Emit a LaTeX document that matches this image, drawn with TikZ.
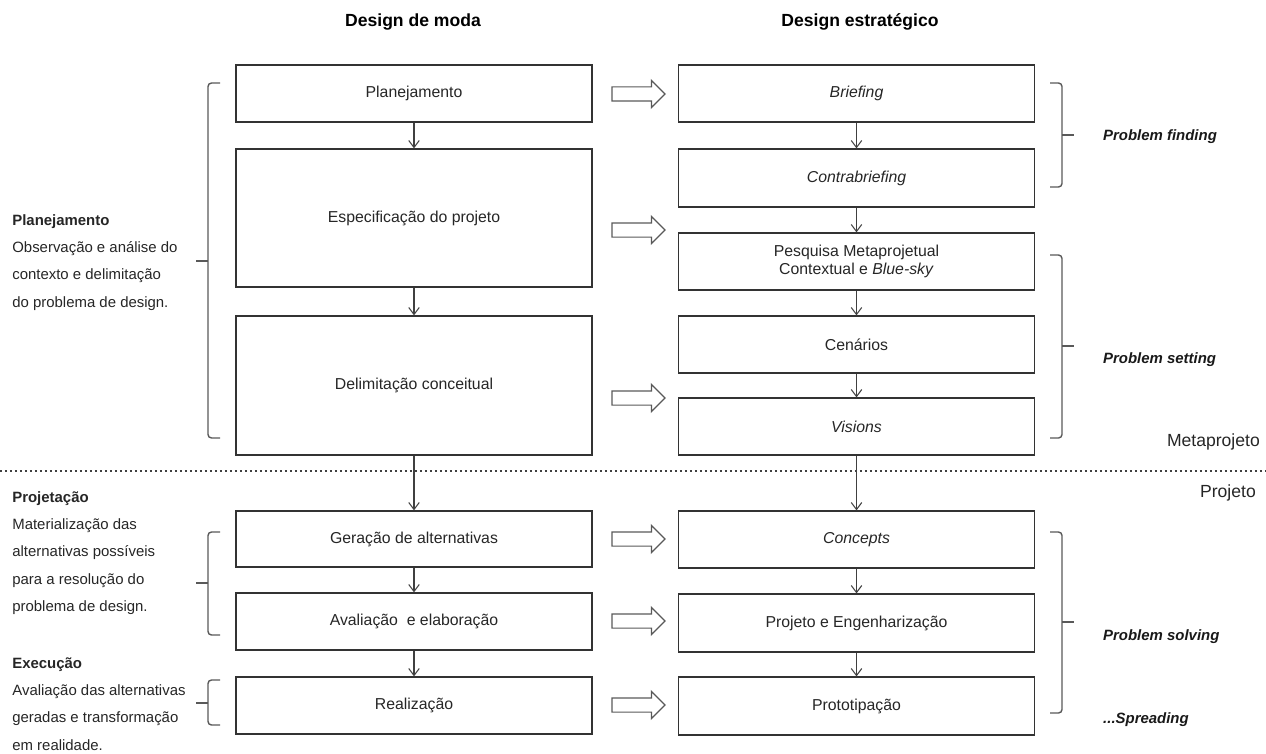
\documentclass[tikz,border=0pt]{standalone}
\usepackage{fontspec}
\setmainfont{Liberation Sans}
\usetikzlibrary{arrows.meta,shapes.arrows}

\tikzset{
    caixa/.style={draw=black!80, line width=0.7pt, minimum width=7.12cm, minimum height=1.14cm,
        inner sep=0pt, align=center, text=black!85, font=\fontsize{9}{10.5}\selectfont},
    seta/.style={draw=black!75, line width=0.6pt, -{Straight Barb[length=4pt,width=6pt]}},
    setaoca/.style={single arrow, draw=black!65, line width=0.7pt, minimum height=1.06cm,
        inner xsep=0pt, inner ysep=0.13cm, single arrow head extend=0.13cm},
    chave/.style={draw=black!65, line width=0.8pt, rounded corners=0.07cm},
    descricao/.style={anchor=north west, inner sep=0pt, align=left, text=black!85,
        font=\fontsize{8.5}{15.6}\selectfont},
    rotulo/.style={anchor=west, text=black!90, font=\fontsize{8.5}{10}\selectfont\bfseries\itshape},
    etapa/.style={text=black!85, font=\fontsize{10}{12}\selectfont},
}

\begin{document}
\begin{tikzpicture}[x=0.02cm, y=-0.02cm]
    \useasboundingbox (0,0) rectangle (1266,753);

    \node[font=\fontsize{10}{12}\selectfont\bfseries] (tmoda) at (413,22) {Design de moda};
    \node[font=\fontsize{10}{12}\selectfont\bfseries] (testr) at (860,22) {Design estratégico};

    \node[caixa] (plan) at (414,93.5) {Planejamento};
    \node[caixa, minimum height=2.76cm] (espec) at (414,218) {Especificação do projeto};
    \node[caixa, minimum height=2.78cm] (delim) at (414,385.5) {Delimitação conceitual};
    \node[caixa, minimum height=1.12cm] (gera) at (414,539) {Geração de alternativas};
    \node[caixa] (aval) at (414,621.5) {Avaliação\ \ e elaboração};
    \node[caixa] (real) at (414,705.5) {Realização};

    \node[caixa] (brief) at (856.5,93.5) {\itshape Briefing};
    \node[caixa, minimum height=1.16cm] (contra) at (856.5,178) {\itshape Contrabriefing};
    \node[caixa] (pesq) at (856.5,261.5) {Pesquisa Metaprojetual\\Contextual e \textit{Blue-sky}};
    \node[caixa] (cen) at (856.5,344.5) {Cenários};
    \node[caixa] (vis) at (856.5,426.5) {\itshape Visions};
    \node[caixa] (conc) at (856.5,539.5) {\itshape Concepts};
    \node[caixa, minimum height=1.16cm] (proj) at (856.5,623) {Projeto e Engenharização};
    \node[caixa, minimum height=1.16cm] (prot) at (856.5,706) {Prototipação};

    \draw[seta] (plan) -- (espec);
    \draw[seta] (espec) -- (delim);
    \draw[seta] (delim) -- (gera);
    \draw[seta] (gera) -- (aval);
    \draw[seta] (aval) -- (real);
    \draw[seta] (brief) -- (contra);
    \draw[seta] (contra) -- (pesq);
    \draw[seta] (pesq) -- (cen);
    \draw[seta] (cen) -- (vis);
    \draw[seta] (vis) -- (conc);
    \draw[seta] (conc) -- (proj);
    \draw[seta] (proj) -- (prot);

    \node[setaoca] (s1) at (635,94) {};
    \node[setaoca] (s2) at (635,230) {};
    \node[setaoca] (s3) at (635,398) {};
    \node[setaoca] (s4) at (635,539) {};
    \node[setaoca] (s5) at (635,621) {};
    \node[setaoca] (s6) at (635,705) {};

    \draw[black!75, line width=1.4pt, dash pattern=on 0.05cm off 0.05cm] (0,471) -- (1266,471);

    \draw[chave] (220,83) -- (208,83) -- (208,438) -- (220,438);
    \draw[chave] (208,261) -- (196,261);
    \draw[chave] (220,532) -- (208,532) -- (208,635) -- (220,635);
    \draw[chave] (208,583) -- (196,583);
    \draw[chave] (220,680) -- (208,680) -- (208,725) -- (220,725);
    \draw[chave] (208,703) -- (196,703);

    \draw[chave] (1050,83) -- (1062,83) -- (1062,187) -- (1050,187);
    \draw[chave] (1062,135) -- (1074,135);
    \draw[chave] (1050,255) -- (1062,255) -- (1062,438) -- (1050,438);
    \draw[chave] (1062,346) -- (1074,346);
    \draw[chave] (1050,532) -- (1062,532) -- (1062,713) -- (1050,713);
    \draw[chave] (1062,622) -- (1074,622);

    \node[descricao] (dplan) at (12,214) {\textbf{Planejamento}\\Observação e análise do\\contexto e delimitação\\do problema de design.};
    \node[descricao] (dproj) at (12,491) {\textbf{Projetação}\\Materialização das\\alternativas possíveis\\para a resolução do\\problema de design.};
    \node[descricao] (dexec) at (12,657) {\textbf{Execução}\\Avaliação das alternativas\\geradas e transformação\\em realidade.};

    \node[rotulo] (pfind) at (1097,137) {Problem finding};
    \node[rotulo] (pset) at (1097,360) {Problem setting};
    \node[rotulo] (psolv) at (1097,637) {Problem solving};
    \node[rotulo] (pspr) at (1097,720) {...Spreading};

    \node[etapa, anchor=east] (meta) at (1266,442) {Metaprojeto};
    \node[etapa, anchor=east] (projt) at (1262,493) {Projeto};
\end{tikzpicture}
\end{document}
